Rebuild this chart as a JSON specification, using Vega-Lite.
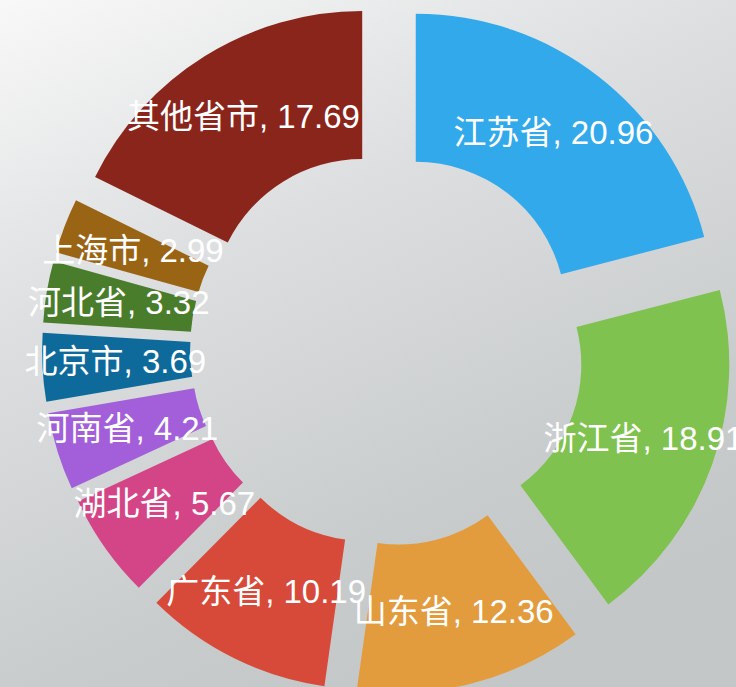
{
  "$schema": "https://vega.github.io/schema/vega-lite/v6.json",
  "width": 774,
  "height": 698,
  "autosize": "none",
  "padding": {"left": 0, "top": 0, "right": -38, "bottom": -11},
  "background": "#d9dbdc",
  "config": {"view": {"stroke": null}},
  "layer": [
    {
      "data": {"values": [{"bg": 1}]},
      "mark": {
        "type": "rect",
        "fill": {
          "gradient": "linear",
          "x1": 0, "y1": 0, "x2": 0.5, "y2": 1,
          "stops": [
            {"offset": 0, "color": "#f8f8f8"},
            {"offset": 0.4, "color": "#dcdedf"},
            {"offset": 0.8, "color": "#c9cccd"},
            {"offset": 1, "color": "#c4c7c8"}
          ]
        }
      },
      "encoding": {}
    },
    {
      "data": {
        "values": [
          {"name": "江苏省", "v": 20.96},
          {"name": "浙江省", "v": 18.91},
          {"name": "山东省", "v": 12.36},
          {"name": "广东省", "v": 10.19},
          {"name": "湖北省", "v": 5.67},
          {"name": "河南省", "v": 4.21},
          {"name": "北京市", "v": 3.69},
          {"name": "河北省", "v": 3.32},
          {"name": "上海市", "v": 2.99},
          {"name": "其他省市", "v": 17.69}
        ]
      },
      "transform": [
        {"window": [{"op": "row_number", "as": "i"}]},
        {"joinaggregate": [{"op": "sum", "field": "v", "as": "total"}]},
        {"calculate": "datum.name + ', ' + format(datum.v, '.2f')", "as": "label"}
      ],
      "encoding": {
        "theta": {"field": "v", "type": "quantitative", "stack": true},
        "order": {"field": "i", "type": "quantitative"},
        "color": {
          "field": "name",
          "type": "nominal",
          "scale": {
            "domain": ["江苏省", "浙江省", "山东省", "广东省", "湖北省", "河南省", "北京市", "河北省", "上海市", "其他省市"],
            "range": ["#31a9eb", "#7fc24f", "#e39c3d", "#d74a3a", "#d44587", "#a35fd9", "#0f6a9c", "#4a7d2b", "#9a6415", "#8a251c"]
          },
          "legend": null
        }
      },
      "layer": [
        {
          "mark": {
            "type": "arc",
            "radius": 298,
            "radius2": 150,
            "xOffset": {"expr": "47*sin(PI*(datum.v_start+datum.v_end)/datum.total)"},
            "yOffset": {"expr": "-47*cos(PI*(datum.v_start+datum.v_end)/datum.total)"}
          }
        },
        {
          "mark": {
            "type": "text",
            "radius": 225,
            "fontSize": 33,
            "font": "Liberation Sans, Noto Sans CJK SC, sans-serif",
            "align": "center",
            "baseline": "middle",
            "xOffset": {"expr": "47*sin(PI*(datum.v_start+datum.v_end)/datum.total)"},
            "yOffset": {"expr": "-47*cos(PI*(datum.v_start+datum.v_end)/datum.total)"}
          },
          "encoding": {
            "text": {"field": "label", "type": "nominal"},
            "color": {"value": "#ffffff"}
          }
        }
      ]
    }
  ]
}
